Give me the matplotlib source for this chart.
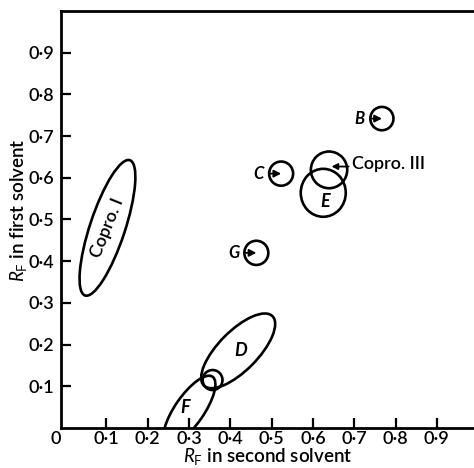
import numpy as np
import matplotlib
matplotlib.use('Agg')
import matplotlib.pyplot as plt
from matplotlib.patches import Ellipse, Circle

plt.rcParams['font.family'] = ['Lato', 'DejaVu Sans']
plt.rcParams['mathtext.fontset'] = 'custom'
plt.rcParams['mathtext.rm'] = 'Lato'
plt.rcParams['mathtext.it'] = 'Lato:italic'

# small round spots with a letter and arrow
spot_names = ['B', 'C', 'G']
spot_x = [0.767, 0.523, 0.463]
spot_y = [0.742, 0.610, 0.420]
spot_r = [0.028, 0.029, 0.029]

# Copro. III spot
copro3_x, copro3_y, copro3_r = 0.639, 0.619, 0.044

# elongated spots: name, centre, length, width, angle
ell_names = ['E', 'D', 'F', 'Copro. I']
ell_x = [0.625, 0.419, 0.301, 0.1025]
ell_y = [0.564, 0.185, 0.043, 0.480]
ell_w = [0.109, 0.235, 0.195, 0.342]
ell_h = [0.115, 0.095, 0.070, 0.085]
ell_ang = [0, 45, 55, 71.5]

# small circle between D and F
junc_x, junc_y, junc_r = 0.357, 0.115, 0.024

ticks = [0.1, 0.2, 0.3, 0.4, 0.5, 0.6, 0.7, 0.8, 0.9]
tick_labels = ['0\u00b71', '0\u00b72', '0\u00b73', '0\u00b74', '0\u00b75',
               '0\u00b76', '0\u00b77', '0\u00b78', '0\u00b79']

fig = plt.figure(figsize=(4.74, 4.68), dpi=100)
ax = fig.add_axes([61 / 474, 40 / 468, 413 / 474, 417 / 468])
ax.set_xlim(-0.01, 0.99)
ax.set_ylim(0, 1.0)

lw = 1.9
arrow = dict(arrowstyle='-|>,head_length=0.35,head_width=0.18',
             color='black', lw=1.3, shrinkA=2, shrinkB=0)

for i in range(len(spot_names)):
    ax.add_patch(Circle((spot_x[i], spot_y[i]), spot_r[i], fill=False, lw=lw, color='black'))
    ax.annotate(spot_names[i], xy=(spot_x[i], spot_y[i]), xytext=(-16, 0),
                textcoords='offset points', ha='center', va='center',
                fontsize=12, style='italic', fontweight='bold', arrowprops=arrow)

# Copro. III: arrow from the label into the circle
ax.add_patch(Circle((copro3_x, copro3_y), copro3_r, fill=False, lw=lw, color='black'))
ax.annotate('', xy=(copro3_x + 0.006, copro3_y + 0.008),
            xytext=(copro3_x + 0.054, copro3_y + 0.008), arrowprops=arrow)
ax.text(copro3_x + 0.056, copro3_y + 0.014, 'Copro. III', ha='left', va='center',
        fontsize=13, fontweight='semibold')

for i in range(len(ell_names)):
    ax.add_patch(Ellipse((ell_x[i], ell_y[i]), ell_w[i], ell_h[i], angle=ell_ang[i],
                         fill=False, lw=lw, color='black'))
    if ell_names[i] == 'Copro. I':
        ax.text(ell_x[i], ell_y[i], ell_names[i], rotation=68, ha='center', va='center',
                fontsize=13, fontweight='semibold', rotation_mode='anchor')
    elif ell_names[i] == 'F':
        ax.text(ell_x[i] - 0.01, ell_y[i] + 0.005, ell_names[i], ha='center', va='center',
                fontsize=13, style='italic', fontweight='bold')
    elif ell_names[i] == 'E':
        ax.text(ell_x[i] + 0.005, ell_y[i] - 0.02, ell_names[i], ha='center', va='center',
                fontsize=13, style='italic', fontweight='bold')
    else:
        ax.text(ell_x[i] + 0.005, ell_y[i], ell_names[i], ha='center', va='center',
                fontsize=13, style='italic', fontweight='bold')

ax.add_patch(Circle((junc_x, junc_y), junc_r, fill=False, lw=lw, color='black'))

for s in ['left', 'bottom', 'top']:
    ax.spines[s].set_linewidth(2.0)
ax.spines['right'].set_visible(False)

ax.set_xticks(ticks)
ax.set_xticklabels(tick_labels)
ax.set_yticks(ticks)
ax.set_yticklabels(tick_labels)
ax.tick_params(direction='in', length=7, width=1.6, labelsize=13, pad=5)
ax.tick_params(axis='x', pad=2)
for lab in ax.get_xticklabels() + ax.get_yticklabels():
    lab.set_fontweight('semibold')
ax.text(-0.01, -0.008, '0', ha='right', va='top', fontsize=13, fontweight='semibold')

fig.text(0.565, 0.003, r'$R_{\mathrm{F}}$ in second solvent', ha='center', va='bottom',
         fontsize=13.5, fontweight='semibold')
fig.text(0.04, 0.55, r'$R_{\mathrm{F}}$ in first solvent', ha='center', va='center',
         rotation=90, fontsize=13.5, fontweight='semibold')

fig.savefig('out.png', dpi=100)
